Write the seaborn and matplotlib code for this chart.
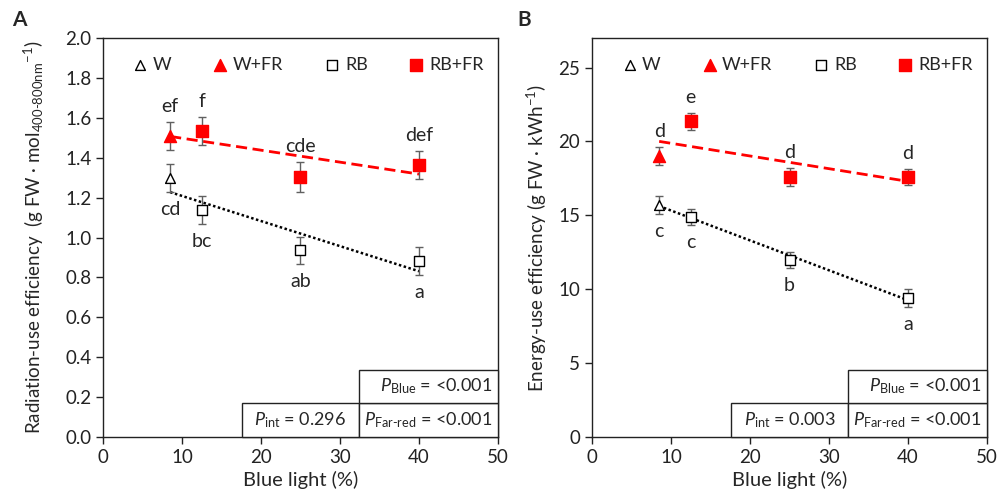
import numpy as np
import matplotlib
matplotlib.use("Agg")
import matplotlib.pyplot as plt
from matplotlib.patches import Rectangle
import seaborn as sns

# blue light levels (%)
x_W = [8.5]
x_RB = [12.5, 25, 40]

# panel A: radiation-use efficiency
rue_W, rue_W_err = [1.30], [0.07]
rue_WFR, rue_WFR_err = [1.51], [0.07]
rue_RB, rue_RB_err = [1.14, 0.935, 0.88], [0.07, 0.07, 0.07]
rue_RBFR, rue_RBFR_err = [1.535, 1.305, 1.365], [0.07, 0.075, 0.07]
rue_letters = {"W": ["cd"], "WFR": ["ef"], "RB": ["bc", "ab", "a"], "RBFR": ["f", "cde", "def"]}

# panel B: energy-use efficiency
eue_W, eue_W_err = [15.7], [0.6]
eue_WFR, eue_WFR_err = [19.0], [0.6]
eue_RB, eue_RB_err = [14.9, 12.0, 9.4], [0.55, 0.55, 0.6]
eue_RBFR, eue_RBFR_err = [21.35, 17.6, 17.6], [0.55, 0.6, 0.55]
eue_letters = {"W": ["c"], "WFR": ["d"], "RB": ["c", "b", "a"], "RBFR": ["e", "d", "d"]}

p_A = ["0.296", "<0.001", "<0.001"]
p_B = ["0.003", "<0.001", "<0.001"]

sns.set_theme(style="ticks")
plt.rcParams["font.family"] = ["Lato", "DejaVu Sans"]
plt.rcParams["mathtext.fontset"] = "custom"
plt.rcParams["mathtext.rm"] = "Lato"
plt.rcParams["mathtext.it"] = "Lato:italic"
plt.rcParams["axes.edgecolor"] = "#222222"
plt.rcParams["xtick.color"] = "#222222"
plt.rcParams["ytick.color"] = "#222222"

RED = "#ff0000"
EBAR = "#606060"


def panel(ax, W, W_err, WFR, WFR_err, RB, RB_err, RBFR, RBFR_err, letters, pvals,
          ylim, yticks, fmt, ylabel, ylabel_x):
    # trend lines (regression on W + RB points)
    sns.regplot(x=x_W + x_RB, y=W + RB, scatter=False, ci=None, ax=ax,
                line_kws=dict(color="black", ls=(0, (1, 1)), lw=1.8, zorder=2))
    sns.regplot(x=x_W + x_RB, y=WFR + RBFR, scatter=False, ci=None, ax=ax,
                line_kws=dict(color=RED, ls=(0, (4, 2)), lw=2, zorder=2))

    series = [
        ("W", x_W, W, W_err, "^", "white", "black", 50, "below"),
        ("W+FR", x_W, WFR, WFR_err, "^", RED, RED, 75, "above"),
        ("RB", x_RB, RB, RB_err, "s", "white", "black", 50, "below"),
        ("RB+FR", x_RB, RBFR, RBFR_err, "s", RED, RED, 85, "above"),
    ]
    keys = {"W": "W", "W+FR": "WFR", "RB": "RB", "RB+FR": "RBFR"}
    for name, xs, ys, errs, mk, fc, ec, sz, side in series:
        ax.errorbar(xs, ys, yerr=errs, fmt="none", ecolor=EBAR, elinewidth=1,
                    capsize=3, capthick=1, zorder=3)
        sns.scatterplot(x=xs, y=ys, marker=mk, s=sz, color=fc, edgecolor=ec,
                        linewidth=1, label=name, ax=ax, zorder=4)
        for xv, yv, ev, lab in zip(xs, ys, errs, letters[keys[name]]):
            if side == "above":
                ax.annotate(lab, (xv, yv + ev), xytext=(0, 5), textcoords="offset points",
                            ha="center", va="bottom", fontsize=14)
            else:
                ax.annotate(lab, (xv, yv - ev), xytext=(0, -6.5), textcoords="offset points",
                            ha="center", va="top", fontsize=14)

    ax.set_xlim(0, 50)
    ax.set_xticks(range(0, 51, 10))
    ax.set_ylim(*ylim)
    ax.set_yticks(yticks)
    ax.set_yticklabels([fmt.format(v) for v in yticks])
    ax.tick_params(labelsize=13.5, length=5, width=1, direction="out")
    for sp in ax.spines.values():
        sp.set_visible(True)
        sp.set_linewidth(1)
    ax.set_xlabel("Blue light (%)", fontsize=14.5)
    ax.set_ylabel(ylabel, fontsize=13.5)
    ax.yaxis.set_label_coords(ylabel_x, 0.5)

    ax.legend(loc="upper center", bbox_to_anchor=(0.52, 0.985), ncol=4, frameon=False,
              fontsize=13, handlelength=0.8, handletextpad=0.3, columnspacing=2.3,
              borderaxespad=0.3)

    # p-value table
    h = 0.0845
    cells = [(0.352, 0.0, 0.296), (0.648, 0.0, 0.352), (0.648, h, 0.352)]
    for cx, cy, cw in cells:
        ax.add_patch(Rectangle((cx, cy), cw, h, transform=ax.transAxes, facecolor="white",
                               edgecolor="#222222", lw=1, clip_on=False, zorder=5))
    ax.text(0.5, h / 2, r"$\mathit{P}_{\mathrm{int}}$ = " + pvals[0], transform=ax.transAxes,
            ha="center", va="center", fontsize=13, zorder=6)
    ax.text(0.985, h * 1.5, r"$\mathit{P}_{\mathrm{Blue}}$ = " + pvals[1], transform=ax.transAxes,
            ha="right", va="center", fontsize=13, zorder=6)
    ax.text(0.985, h / 2, r"$\mathit{P}_{\text{Far-red}}$ = " + pvals[2], transform=ax.transAxes,
            ha="right", va="center", fontsize=13, zorder=6)


fig = plt.figure(figsize=(9.98, 5.04), dpi=100)
axA = fig.add_axes([0.1032, 0.1329, 0.3958, 0.7917])
axB = fig.add_axes([0.5932, 0.1329, 0.3958, 0.7917])

panel(axA, rue_W, rue_W_err, rue_WFR, rue_WFR_err, rue_RB, rue_RB_err, rue_RBFR, rue_RBFR_err,
      rue_letters, p_A, (0, 2.0), np.arange(0, 2.01, 0.2), "{:.1f}",
      r"Radiation-use efficiency  (g FW · mol$_{\text{400-800nm}}$$^{\mathrm{-1}}$)", -0.145)
panel(axB, eue_W, eue_W_err, eue_WFR, eue_WFR_err, eue_RB, eue_RB_err, eue_RBFR, eue_RBFR_err,
      eue_letters, p_B, (0, 27), [0, 5, 10, 15, 20, 25], "{:.0f}",
      r"Energy-use efficiency (g FW · kWh$^{\mathrm{-1}}$)", -0.11)

fig.text(0.019, 0.96, "A", fontsize=15, fontweight="bold", ha="center", va="center")
fig.text(0.525, 0.96, "B", fontsize=15, fontweight="bold", ha="center", va="center")

fig.savefig("out.png", dpi=100)
